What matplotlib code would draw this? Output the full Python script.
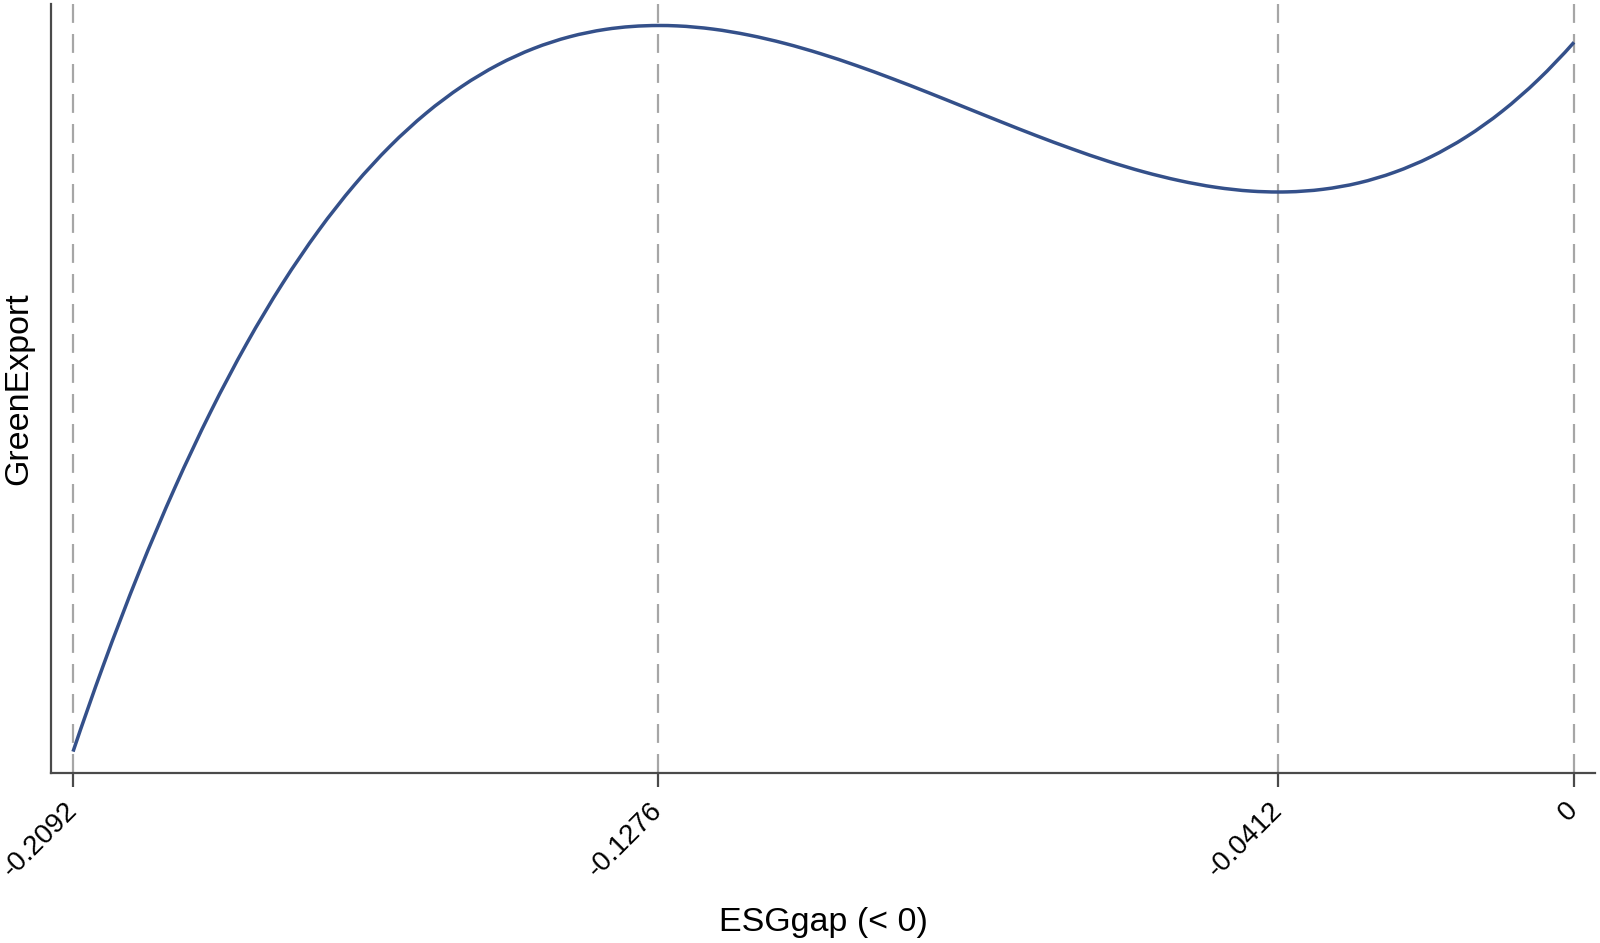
import matplotlib
matplotlib.use("Agg")
import matplotlib.pyplot as plt
import numpy as np
from matplotlib.path import Path
from matplotlib.patches import PathPatch

# ESGgap values (x) and GreenExport values (arbitrary units)
esg_gap = [-0.2092, -0.205, -0.200, -0.195, -0.190, -0.185, -0.180, -0.175, -0.170,
           -0.165, -0.160, -0.155, -0.150, -0.145, -0.140, -0.135, -0.1276, -0.125,
           -0.120, -0.115, -0.110, -0.105, -0.100, -0.095, -0.090, -0.085, -0.080,
           -0.075, -0.070, -0.065, -0.060, -0.055, -0.050, -0.045, -0.0412, -0.040,
           -0.035, -0.030, -0.025, -0.020, -0.015, -0.010, -0.005, 0.000]
green_export = [21.4, 107.2, 200.8, 285.4, 361.5, 429.4, 489.5, 542.2, 587.9,
                626.9, 659.7, 686.6, 708.1, 724.5, 736.2, 743.6, 747.5, 747.1,
                743.9, 737.9, 729.6, 719.3, 707.4, 694.3, 680.4, 666.0, 651.6,
                637.5, 624.2, 611.9, 601.2, 592.4, 585.8, 581.9, 581.0, 581.1,
                583.7, 590.1, 600.8, 616.0, 636.2, 661.8, 693.2, 730.7]

tick_values = [-0.2092, -0.1276, -0.0412, 0.0]
tick_labels = ["-0.2092", "-0.1276", "-0.0412", "0"]

plt.rcParams['font.family'] = ['Liberation Sans', 'DejaVu Sans']

fig = plt.figure(figsize=(16, 9.43), dpi=100)
ax = fig.add_axes([51/1600, 1 - 773/943, (1595 - 51)/1600, (773 - 4)/943])

spine_col = '#4a4a4a'
for v in tick_values:
    ax.plot([v, v], [1, 0], transform=ax.get_xaxis_transform(),
            color='#a6a6a6', lw=1.6, linestyle=(0, (8.5, 5.0)), zorder=1,
            clip_on=False)

# smooth rendering of the read points: cubic Bezier segments (Hermite tangents)
xs = np.asarray(esg_gap, float)
ys = np.asarray(green_export, float)
n = len(xs)
h = np.diff(xs)
s = np.diff(ys) / h
m = np.empty(n)
m[1:-1] = (s[1:] * h[:-1] + s[:-1] * h[1:]) / (h[:-1] + h[1:])
m[0] = 2 * s[0] - m[1]
m[-1] = 2 * s[-1] - m[-2]
verts = [(xs[0], ys[0])]
codes = [Path.MOVETO]
for i in range(n - 1):
    verts += [(xs[i] + h[i] / 3, ys[i] + m[i] * h[i] / 3),
              (xs[i + 1] - h[i] / 3, ys[i + 1] - m[i + 1] * h[i] / 3),
              (xs[i + 1], ys[i + 1])]
    codes += [Path.CURVE4] * 3
ax.add_patch(PathPatch(Path(verts, codes), fill=False, edgecolor='#34508a',
                       lw=2.5, zorder=3, capstyle='butt'))

ax.set_xlim(-0.21227, 0.002927)
ax.set_ylim(0, 769)

ax.spines['top'].set_visible(False)
ax.spines['right'].set_visible(False)
for sp in ('left', 'bottom'):
    ax.spines[sp].set_color(spine_col)
    ax.spines[sp].set_linewidth(1.6)

ax.set_xticks(tick_values)
ax.set_xticklabels(tick_labels, rotation=45, ha='right', va='center',
                   rotation_mode='anchor', fontsize=20)
ax.tick_params(axis='x', length=10, width=1.6, color=spine_col, pad=14)
ax.set_yticks([])

ax.set_xlabel("ESGgap (< 0)", fontsize=24.5, labelpad=18)
ax.set_ylabel("GreenExport", fontsize=24.5, labelpad=12)

fig.savefig("out.png", dpi=100)
